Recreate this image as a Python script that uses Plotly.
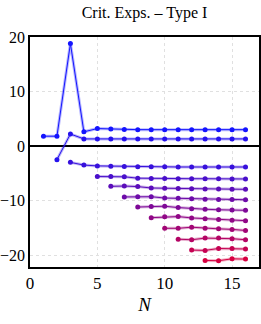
import plotly.graph_objects as go

# Critical exponents per level; each row starts at a given N and runs to N=16
row_starts = [1, 2, 3, 5, 6, 7, 8, 9, 10, 11, 12, 13]
row_values = [
    [1.8, 1.8, 18.8, 2.6, 3.2, 3.1, 3.05, 3.0, 3.0, 3.0, 3.0, 3.0, 3.0, 3.0, 3.0, 3.0],
    [-2.5, 2.2, 1.3, 1.3, 1.3, 1.3, 1.3, 1.3, 1.3, 1.3, 1.3, 1.3, 1.3, 1.3, 1.3],
    [-3.0, -3.5, -3.65, -3.7, -3.75, -3.8, -3.8, -3.8, -3.85, -3.85, -3.85, -3.85, -3.85, -3.85],
    [-5.6, -5.6, -5.65, -5.9, -5.95, -5.95, -6.0, -6.0, -6.0, -6.0, -6.05, -6.05],
    [-7.4, -7.35, -7.45, -7.7, -7.75, -7.8, -7.85, -7.9, -7.9, -7.95, -7.95],
    [-9.35, -9.3, -9.3, -9.55, -9.6, -9.7, -9.75, -9.8, -9.8, -9.85],
    [-11.2, -11.1, -11.05, -11.3, -11.5, -11.6, -11.7, -11.75, -11.8],
    [-13.15, -13.0, -12.95, -13.2, -13.35, -13.5, -13.6, -13.7],
    [-15.1, -15.1, -14.9, -15.1, -15.2, -15.3, -15.5],
    [-17.1, -17.2, -16.9, -16.9, -17.0, -17.2],
    [-19.1, -19.15, -18.8, -18.8, -18.9],
    [-21.0, -21.05, -20.7, -20.75],
]

title_text = "Crit. Exps. – Type I"
x_ticks = [0, 5, 10, 15]
y_ticks = [-20, -10, 0, 10, 20]

c0 = (20, 20, 255)
c1 = (215, 0, 65)

def col(t, a=1.0):
    r = round(c0[0] + (c1[0] - c0[0]) * t)
    g = round(c0[1] + (c1[1] - c0[1]) * t)
    b = round(c0[2] + (c1[2] - c0[2]) * t)
    return f"rgba({r},{g},{b},{a})"

fig = go.Figure()
n_rows = len(row_values)
for i, (s, vals) in enumerate(zip(row_starts, row_values)):
    t = i / (n_rows - 1)
    xs = list(range(s, s + len(vals)))
    fig.add_trace(go.Scatter(x=xs, y=vals, mode="lines",
                             line=dict(color=col(t, 0.3), width=3),
                             hoverinfo="skip", showlegend=False))
    fig.add_trace(go.Scatter(x=xs, y=vals, mode="lines+markers",
                             line=dict(color=col(t), width=1),
                             marker=dict(color=col(t), size=5),
                             showlegend=False))

font_family = "Liberation Serif"
fig.update_layout(
    width=261, height=324,
    margin=dict(l=30, r=2, t=37, b=57),
    paper_bgcolor="white", plot_bgcolor="white",
    font=dict(family=font_family, color="black", size=16),
    title=dict(text=title_text, x=0.5, xref="paper", y=1 - 12 / 324,
               yref="container", yanchor="middle", xanchor="center",
               font=dict(size=16, family=font_family)),
)
fig.update_xaxes(range=[0, 17], tickvals=x_ticks, showline=True, mirror=True,
                 linecolor="black", linewidth=1.5, ticks="", showgrid=True,
                 gridcolor="#e0e0e0", griddash="dot", gridwidth=1, zeroline=False,
                 automargin=False,
                 title=dict(text="<i>N</i>", font=dict(size=19), standoff=6),
                 tickfont=dict(size=17))
fig.update_yaxes(range=[-22.2, 20], tickvals=y_ticks, showline=True, mirror=True,
                 linecolor="black", linewidth=1.5, ticks="", showgrid=True,
                 gridcolor="#e0e0e0", griddash="dot", gridwidth=1,
                 zeroline=True, zerolinecolor="black", zerolinewidth=1.5,
                 automargin=False,
                 tickfont=dict(size=16), ticklabelstandoff=0)

fig.write_html("out.html", config={"displayModeBar": False},
               post_script="document.body.style.margin='0px';document.body.style.overflow='hidden';")
